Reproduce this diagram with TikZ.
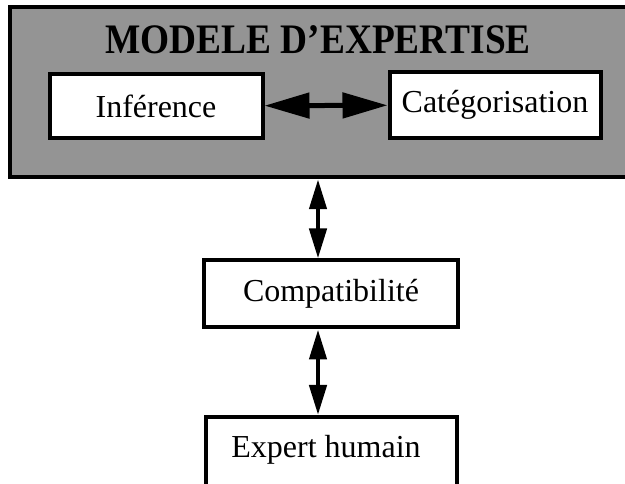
\documentclass[tikz,border=0pt]{standalone}
\usepackage{fontspec}
\setmainfont{Liberation Serif}
\usetikzlibrary{arrows.meta}

\begin{document}
\begin{tikzpicture}[x=1pt,y=-1pt,
	modelbox/.style={draw,line width=4.5pt,fill=black!42,minimum width=630pt,minimum height=170pt,inner sep=0pt},
	whitebox/.style={draw,line width=4pt,fill=white,inner sep=0pt,font=\fontsize{32}{36}\selectfont},
	harrow/.style={line width=5pt,{Triangle[length=45pt,width=25pt]}-{Triangle[length=45pt,width=25pt]}},
	varrow/.style={line width=4.5pt,{Triangle[length=30pt,width=17pt]}-{Triangle[length=30pt,width=17pt]}}]
	\useasboundingbox (0,0) rectangle (625,484);
	\clip (0,0) rectangle (625,484);

	% expertise model
	\node[modelbox] (model) at (325,92) {};
	\node (title) at (318,40) {\fontsize{42}{46}\selectfont\bfseries\scalebox{.89}[1]{MODELE D'EXPERTISE}};
	\node[whitebox,minimum width=213pt,minimum height=64pt] (inf) at (156,106) {Inférence};
	\node[whitebox,minimum width=211pt,minimum height=66pt] (cat) at (495,105) {Catégorisation};
	\draw[harrow] (inf) -- (cat);

	% lower boxes
	\node[whitebox,minimum width=254pt,minimum height=67pt] (compat) at (331,294) {Compatibilité};
	\node[whitebox,minimum width=251pt,minimum height=80pt] (expert) at (331,457) {};
	\node[font=\fontsize{32}{36}\selectfont] (experttext) at (326,450) {Expert humain};

	\coordinate (ax) at (318,0);
	\draw[varrow] (ax |- model.south) -- (ax |- compat.north);
	\draw[varrow] (ax |- compat.south) -- (ax |- expert.north);
\end{tikzpicture}
\end{document}
